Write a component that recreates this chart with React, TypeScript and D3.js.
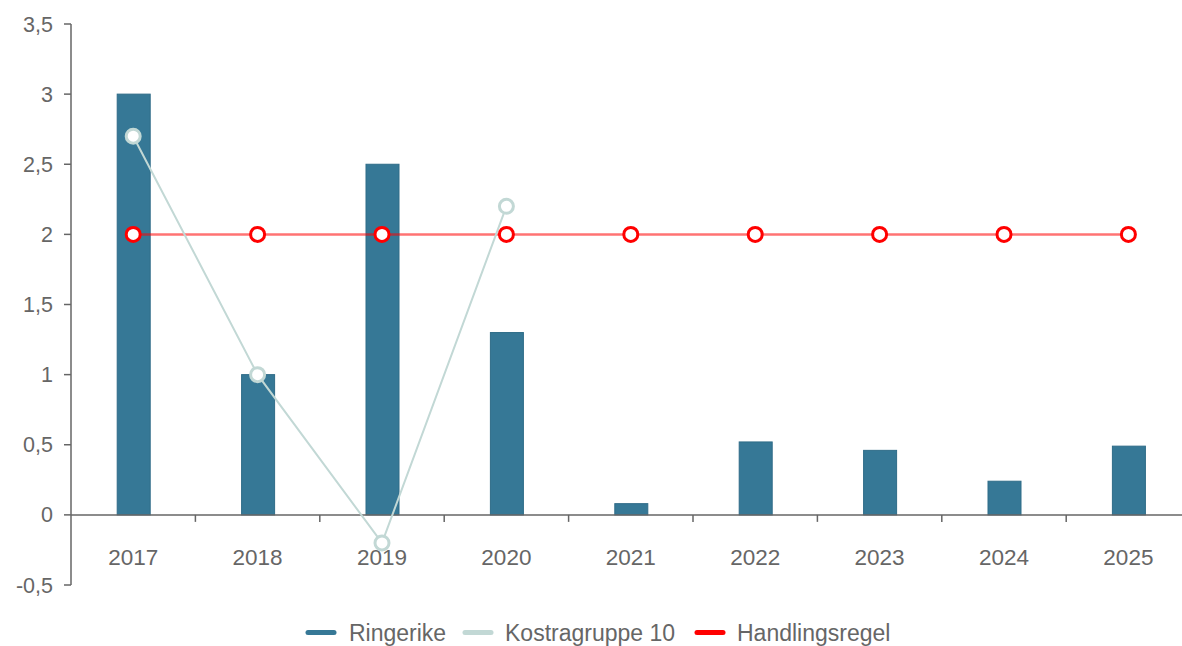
import React from "react";
import * as d3 from "d3";

const years = ["2017", "2018", "2019", "2020", "2021", "2022", "2023", "2024", "2025"];
const ringerike = [3.0, 1.0, 2.5, 1.3, 0.08, 0.52, 0.46, 0.24, 0.49];
const kostra: (number | null)[] = [2.7, 1.0, -0.2, 2.2, null, null, null, null, null];
const handlingsregel = [2, 2, 2, 2, 2, 2, 2, 2, 2];
const yTicks = [-0.5, 0, 0.5, 1, 1.5, 2, 2.5, 3, 3.5];

const W = 1182;
const H = 646;
const FONT = "'Liberation Sans', Arial, sans-serif";

export default function App() {
  const left = 71;
  const x = d3.scaleBand<string>().domain(years).range([left, left + 9 * 124.4]).padding(0);
  const y = d3.scaleLinear().domain([-0.5, 3.5]).range([585, 24]);
  const bw = x.bandwidth();
  const barW = 33;
  const cx = (d: string) => (x(d) as number) + bw / 2;
  const fmt = (v: number) => String(v).replace(".", ",");

  const kostraPts = years
    .map((yr, i) => ({ yr, v: kostra[i] }))
    .filter((d) => d.v !== null) as { yr: string; v: number }[];
  const kLine = d3
    .line<{ yr: string; v: number }>()
    .x((d) => cx(d.yr))
    .y((d) => y(d.v))(kostraPts);
  const hLine = d3
    .line<number>()
    .x((_, i) => cx(years[i]))
    .y((d) => y(d))(handlingsregel);

  const legend = [
    { label: "Ringerike", color: "#367896", sx: 306, tx: 349 },
    { label: "Kostragruppe 10", color: "#c2d8d5", sx: 463, tx: 505 },
    { label: "Handlingsregel", color: "#ff0000", sx: 695, tx: 737 },
  ];

  return (
    <svg width={W} height={H} style={{ position: "absolute", left: 0, top: 0, display: "block" }} fontFamily={FONT}>
      <rect width={W} height={H} fill="#fff" />
      {/* y axis */}
      <line x1={left} x2={left} y1={y(3.5)} y2={y(-0.5)} stroke="#666" strokeWidth={1.5} />
      {yTicks.map((t) => (
        <g key={t}>
          <line x1={left - 7} x2={left} y1={y(t)} y2={y(t)} stroke="#666" strokeWidth={1.5} />
          <text x={left - 18} y={y(t)} dy="0.35em" textAnchor="end" fontSize={21.5} fill="#666">
            {fmt(t)}
          </text>
        </g>
      ))}
      {/* bars */}
      {years.map((yr, i) => (
        <rect
          key={yr}
          x={cx(yr) - barW / 2 + 0.5}
          y={y(Math.max(0, ringerike[i]))}
          width={barW}
          height={Math.abs(y(ringerike[i]) - y(0))}
          fill="#367896"
          stroke="#2f6c88"
          strokeWidth={1}
        />
      ))}
      {/* x axis */}
      <line x1={left} x2={W} y1={y(0)} y2={y(0)} stroke="#666" strokeWidth={1.5} />
      {years.slice(1).map((yr) => (
        <line key={yr} x1={x(yr)} x2={x(yr)} y1={y(0)} y2={y(0) + 7} stroke="#666" strokeWidth={1.5} />
      ))}
      {years.map((yr) => (
        <text key={yr} x={cx(yr)} y={557} dy="0.35em" textAnchor="middle" fontSize={22.5} fill="#666">
          {yr}
        </text>
      ))}
      {/* handlingsregel */}
      <path d={hLine || ""} fill="none" stroke="#ff0000" strokeOpacity={0.55} strokeWidth={2.5} />
      {/* kostra */}
      <path d={kLine || ""} fill="none" stroke="#c2d8d5" strokeWidth={2} />
      {kostraPts.map((d) => (
        <circle key={d.yr} cx={cx(d.yr)} cy={y(d.v)} r={7} fill="#fff" stroke="#c2d8d5" strokeWidth={3} />
      ))}
      {handlingsregel.map((v, i) => (
        <circle key={i} cx={cx(years[i])} cy={y(v)} r={7} fill="#fff" stroke="#ff0000" strokeWidth={3} />
      ))}
      {/* legend */}
      {legend.map((l) => (
        <g key={l.label}>
          <line x1={l.sx + 2} x2={l.sx + 28} y1={632.5} y2={632.5} stroke={l.color} strokeWidth={5} strokeLinecap="round" />
          <text x={l.tx} y={632.5} dy="0.35em" fontSize={23} fill="#666">
            {l.label}
          </text>
        </g>
      ))}
    </svg>
  );
}
